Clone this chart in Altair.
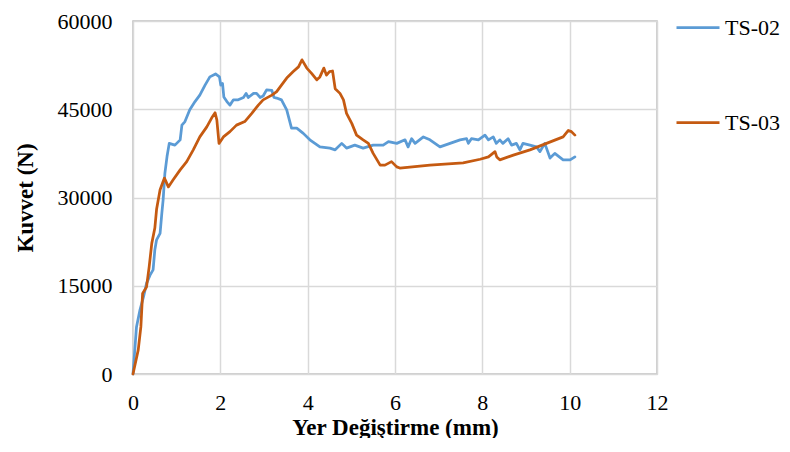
import altair as alt
import pandas as pd

# TS-02 (blue)
ts02_x = [0, 0.08, 0.16, 0.24, 0.31, 0.39, 0.46, 0.50, 0.54, 0.62, 0.66, 0.69, 0.73, 0.78, 0.83,
          0.96, 1.08, 1.12, 1.19, 1.30, 1.42, 1.53, 1.65, 1.76, 1.89, 1.98, 2.01, 2.05, 2.08,
          2.15, 2.22, 2.30, 2.41, 2.53, 2.59, 2.64, 2.76, 2.83, 2.91, 2.98, 3.06, 3.18, 3.23,
          3.29, 3.40, 3.52, 3.63, 3.75, 3.90, 4.05, 4.28, 4.51, 4.63, 4.78, 4.89, 5.08, 5.27,
          5.50, 5.73, 5.85, 6.04, 6.23, 6.30, 6.38, 6.46, 6.65, 6.80, 7.03, 7.26, 7.49, 7.64,
          7.68, 7.75, 7.91, 8.06, 8.14, 8.25, 8.32, 8.40, 8.47, 8.59, 8.67, 8.78, 8.86, 8.93,
          9.09, 9.24, 9.32, 9.43, 9.55, 9.66, 9.85, 10.01, 10.12]
ts02_y = [0, 8000, 10900, 13100, 15400, 16800, 17700, 21100, 22800, 23900, 27300, 29600, 34100, 37000, 39200,
          38900, 39800, 42300, 42900, 44900, 46300, 47400, 49100, 50500, 51000, 50500, 49100, 49400, 47100,
          46300, 45700, 46600, 46600, 47000, 47700, 47000, 47700, 47700, 47000, 47250, 48300, 48200, 47000,
          46900, 46600, 44900, 41800, 41800, 40900, 39800, 38600, 38400, 38100, 39200, 38400, 38900, 38400,
          38900, 38900, 39500, 39200, 39800, 38600, 40000, 39200, 40300, 39800, 38600, 39200, 39800, 40000,
          39200, 40000, 39800, 40600, 39800, 40300, 39200, 39800, 39200, 40000, 38900, 39200, 38100, 39200,
          38900, 38600, 37800, 39200, 36700, 37500, 36400, 36400, 36900]

# TS-03 (orange)
ts03_x = [0, 0.12, 0.18, 0.22, 0.31, 0.37, 0.43, 0.50, 0.54, 0.62, 0.72, 0.81, 0.92, 1.08, 1.23,
          1.38, 1.53, 1.69, 1.80, 1.88, 1.92, 1.97, 2.07, 2.22, 2.37, 2.56, 2.72, 2.87, 2.98,
          3.18, 3.29, 3.40, 3.52, 3.67, 3.79, 3.87, 3.98, 4.09, 4.21, 4.28, 4.37, 4.43, 4.50,
          4.57, 4.63, 4.74, 4.82, 4.89, 5.01, 5.12, 5.27, 5.39, 5.50, 5.66, 5.77, 5.92, 6.04,
          6.11, 6.80, 7.56, 7.95, 8.14, 8.29, 8.33, 8.40, 8.71, 9.09, 9.47, 9.85, 9.97, 10.04, 10.12]
ts03_y = [0, 4100, 8000, 13700, 14800, 18200, 22200, 24800, 28000, 31300, 33300, 31800, 33000, 34700, 36100,
          38100, 40300, 42000, 43500, 44400, 43200, 39200, 40300, 41200, 42300, 42900, 44300, 45700, 46600,
          47400, 48000, 49100, 50300, 51400, 52200, 53400, 52000, 51100, 50000, 50500, 52000, 50800, 51400,
          51500, 48500, 47700, 46600, 44300, 42600, 40600, 39800, 39200, 37500, 35500, 35500, 36100, 35200,
          35000, 35500, 35900, 36500, 36900, 37800, 36900, 36400, 37200, 38100, 39200, 40300, 41400, 41200, 40600]

series_names = ["TS-02", "TS-03"]
series_colors = ["#5B9BD5", "#C55A11"]
x_ticks = [0, 2, 4, 6, 8, 10, 12]
y_ticks = [0, 15000, 30000, 45000, 60000]

rows = []
for name, xs, ys in [("TS-02", ts02_x, ts02_y), ("TS-03", ts03_x, ts03_y)]:
    for i, (xv, yv) in enumerate(zip(xs, ys)):
        rows.append({"series": name, "x": xv, "y": yv, "order": i})
df = pd.DataFrame(rows)

FONT = "Liberation Serif"

chart = alt.Chart(df).mark_line(strokeWidth=2.75, strokeCap="round", strokeJoin="round").encode(
    x=alt.X("x:Q", scale=alt.Scale(domain=[0, 12], nice=False),
            axis=alt.Axis(values=x_ticks, title="Yer Değiştirme (mm)", titleY=60,
                          titleBaseline="alphabetic", labelPadding=18, labelFlush=False)),
    y=alt.Y("y:Q", scale=alt.Scale(domain=[0, 60000], nice=False),
            axis=alt.Axis(values=y_ticks, title="Kuvvet (N)", titleX=-101,
                          titleBaseline="alphabetic", labelPadding=21, format="d",
                          labelFlush=False)),
    color=alt.Color("series:N", scale=alt.Scale(domain=series_names, range=series_colors),
                    legend=alt.Legend(title=None, orient="none", legendX=542, legendY=-16.5,
                                      symbolType="stroke", symbolSize=1849, symbolStrokeWidth=2.75,
                                      labelOffset=4, rowPadding=61, padding=0,
                                      labelFont=FONT, labelFontSize=22, labelColor="#000000")),
    order="order:Q",
).properties(
    width=524, height=353,
    autosize=alt.AutoSizeParams(type="none"),
    padding={"left": 125, "top": 13, "right": 125, "bottom": 64},
).configure_view(
    stroke="#BFBFBF", strokeWidth=1.5
).configure_axis(
    domain=False, ticks=False, tickSize=0,
    grid=True, gridColor="#D9D9D9", gridWidth=1.5,
    labelFont=FONT, labelFontSize=22, labelColor="#000000",
    titleFont=FONT, titleFontSize=23, titleFontWeight="bold", titleColor="#000000",
)

chart.save("out.html", embed_options={"renderer": "svg", "actions": False})
